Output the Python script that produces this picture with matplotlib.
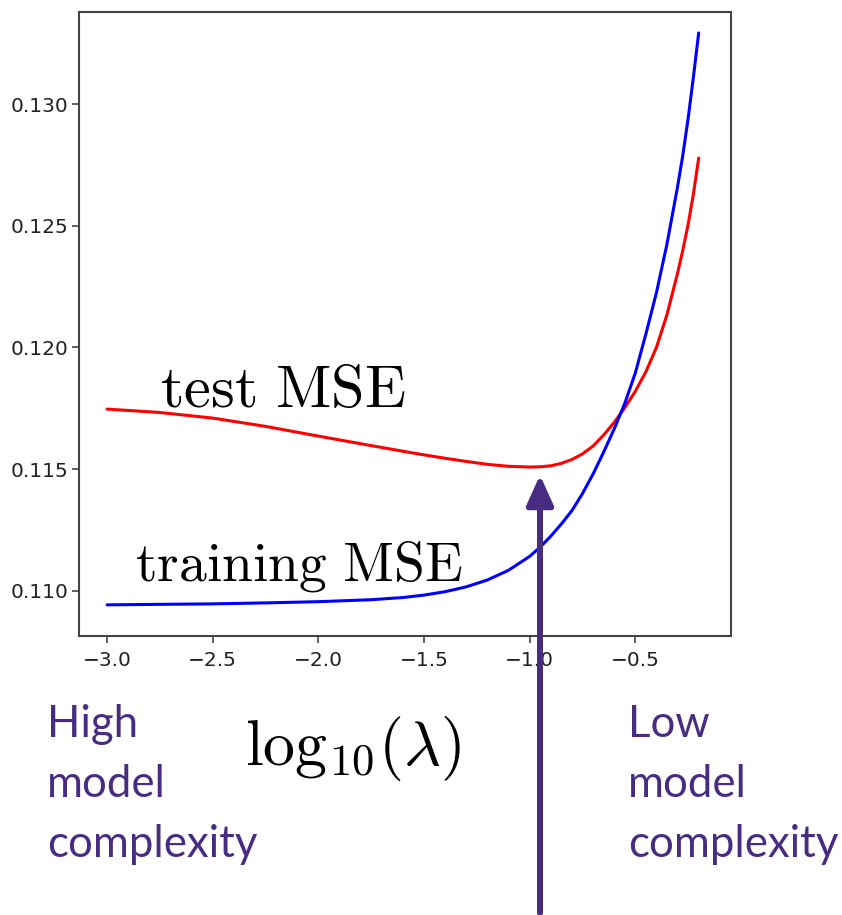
import matplotlib
matplotlib.use("Agg")
import matplotlib.pyplot as plt

plt.rcParams['mathtext.fontset'] = 'cm'

# log10(lambda) grid and MSE values
log_lambda = [-3.0, -2.75, -2.5, -2.25, -2.0, -1.75, -1.6, -1.5, -1.4, -1.3, -1.2,
              -1.1, -1.0, -0.95, -0.9, -0.85, -0.8, -0.75, -0.7, -0.65, -0.6,
              -0.55, -0.5, -0.45, -0.4, -0.35, -0.3, -0.275, -0.25, -0.225, -0.2]
train_mse = [0.10943, 0.10945, 0.10947, 0.10951, 0.10956, 0.10964, 0.10973, 0.10983,
             0.10997, 0.11017, 0.11045, 0.11085, 0.11142, 0.11180, 0.11225, 0.11275,
             0.11330, 0.11400, 0.11480, 0.11570, 0.11665, 0.11770, 0.11895, 0.12055,
             0.12225, 0.12425, 0.12660, 0.12790, 0.12940, 0.13110, 0.13292]
test_mse = [0.11747, 0.11733, 0.11710, 0.11676, 0.11636, 0.11597, 0.11574, 0.11559,
            0.11545, 0.11532, 0.11520, 0.11512, 0.11509, 0.11510, 0.11514, 0.11524,
            0.11540, 0.11563, 0.11595, 0.11640, 0.11692, 0.11752, 0.11820, 0.11900,
            0.12000, 0.12135, 0.12305, 0.12400, 0.12505, 0.12630, 0.12778]

x_ticks = [-3.0, -2.5, -2.0, -1.5, -1.0, -0.5]
y_ticks = [0.110, 0.115, 0.120, 0.125, 0.130]

purple = '#472c82'
W, H = 842, 915
fig = plt.figure(figsize=(W / 100, H / 100), dpi=100)
ax = fig.add_axes([79 / W, 1 - 636 / H, (731 - 79) / W, (636 - 12) / H])

ax.plot(log_lambda, test_mse, color='red', lw=2.2, solid_capstyle='round')
ax.plot(log_lambda, train_mse, color='blue', lw=2.2, solid_capstyle='round')

ax.set_xlim(-3.133, -0.047)
ax.set_ylim(0.10815, 0.13378)
ax.set_xticks(x_ticks)
ax.set_yticks(y_ticks)
ax.set_yticklabels([f'{v:.3f}' for v in y_ticks])
ax.set_xticklabels([f'\u2212{abs(v):.1f}' for v in x_ticks])
for lab in ax.get_xticklabels() + ax.get_yticklabels():
    lab.set_fontfamily(['DejaVu Sans'])
    lab.set_fontsize(14.5)
    lab.set_color('#222222')
ax.tick_params(axis='both', length=5, width=1.2, color='#444444')
ax.tick_params(axis='y', pad=2.5)
ax.tick_params(axis='x', pad=6)
for sp in ax.spines.values():
    sp.set_color('#444444')
    sp.set_linewidth(1.5)

# curve labels
fig.text(160 / W, 1 - 407 / H, r'$\mathrm{test\ MSE}$', fontsize=43.5,
         va='baseline', ha='left')
fig.text(135 / W, 1 - 581 / H, r'$\mathrm{training\ MSE}$', fontsize=40,
         va='baseline', ha='left')
fig.text(245 / W, 1 - 765 / H, r'$\mathrm{log}_{10}(\lambda)$', fontsize=46,
         va='baseline', ha='left')

# complexity notes
left_lines = ['High', 'model', 'complexity']
right_lines = ['Low', 'model', 'complexity']
baselines = [737, 797, 857]
for txt, b in zip(left_lines, baselines):
    fig.text(47 / W, 1 - b / H, txt, fontsize=31.5, color=purple,
             family=['Lato', 'DejaVu Sans'], va='baseline', ha='left')
for txt, b in zip(right_lines, baselines):
    fig.text(628 / W, 1 - b / H, txt, fontsize=31.5, color=purple,
             family=['Lato', 'DejaVu Sans'], va='baseline', ha='left')

# arrow pointing at the test-MSE minimum
ax.annotate('', xy=(540, H - 475), xycoords='figure pixels',
            xytext=(540, H - 913), textcoords='figure pixels',
            arrowprops=dict(arrowstyle='-|>,head_length=1.0,head_width=0.45',
                            color=purple, lw=4.3, shrinkA=0, shrinkB=0,
                            mutation_scale=18),
            annotation_clip=False)

fig.savefig('out.png', dpi=100, facecolor='white')
